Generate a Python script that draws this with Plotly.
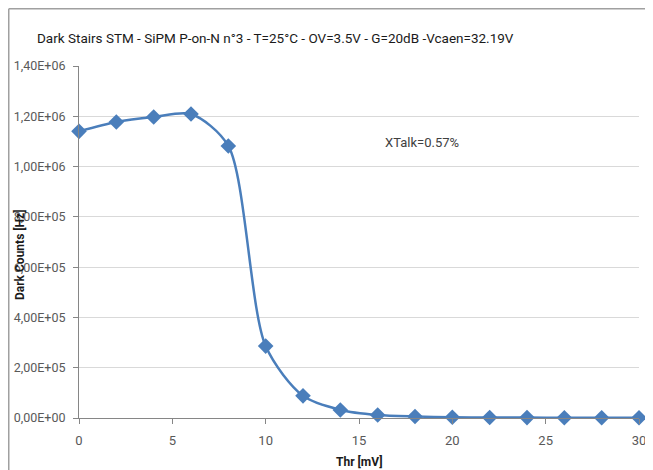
import plotly.graph_objects as go

thr_mv = [0, 2, 4, 6, 8, 10, 12, 14, 16, 18, 20, 22, 24, 26, 28, 30]
dark_counts = [1.14e6, 1.177e6, 1.197e6, 1.209e6, 1.082e6, 2.86e5, 8.8e4, 3.2e4,
               1.2e4, 6e3, 3e3, 2e3, 1.5e3, 1e3, 1e3, 1e3]

y_tickvals = [0, 2e5, 4e5, 6e5, 8e5, 1e6, 1.2e6, 1.4e6]
y_ticktext = ["0,00E+00", "2,00E+05", "4,00E+05", "6,00E+05", "8,00E+05",
              "1,00E+06", "1,20E+06", "1,40E+06"]
x_tickvals = [0, 5, 10, 15, 20, 25, 30]

title_text = "Dark Stairs STM - SiPM P-on-N n°3 - T=25°C - OV=3.5V - G=20dB -Vcaen=32.19V"
FONT = "Roboto, Liberation Sans, sans-serif"
BLUE = "#4a7ebb"

# page is offset by the 8px body margin, so the figure is 645x462
W, H = 645, 462
L, R, T, B = 71, 14, 58, 52
PW, PH = W - L - R, H - T - B

fig = go.Figure()
fig.add_trace(go.Scatter(
    x=thr_mv, y=dark_counts, mode="lines+markers",
    line=dict(color=BLUE, width=2.5, shape="spline", smoothing=0.8),
    marker=dict(symbol="diamond", size=12, color=BLUE),
    cliponaxis=False, showlegend=False,
))

fig.update_layout(
    width=W, height=H,
    margin=dict(l=L, r=R, t=T, b=B, autoexpand=False),
    paper_bgcolor="white", plot_bgcolor="white",
    font=dict(family=FONT, size=13, color="#595959"),
    title=dict(text=title_text, x=29 / W, xanchor="left", xref="container",
               y=1 - 30 / H, yanchor="middle", yref="container",
               font=dict(family=FONT, size=13.5, color="#1a1a1a")),
    xaxis=dict(range=[0, 30], tickvals=x_tickvals, showgrid=False,
               showline=True, linecolor="#868686", linewidth=1,
               ticks="outside", ticklen=5, tickcolor="#868686",
               ticklabelstandoff=5, ticklabeloverflow="allow", automargin=False,
               zeroline=False, tickfont=dict(size=13, color="#595959")),
    yaxis=dict(range=[0, 1.4e6], tickvals=y_tickvals, ticktext=y_ticktext,
               showgrid=True, gridcolor="#d9d9d9", gridwidth=1,
               showline=True, linecolor="#868686", linewidth=1,
               ticks="outside", ticklen=5, tickcolor="#868686",
               ticklabelstandoff=5, automargin=False,
               zeroline=False, tickfont=dict(size=12.5, color="#595959")),
    annotations=[
        dict(text="XTalk=0.57%", x=18.36, y=1.094e6, xref="x", yref="y",
             showarrow=False, font=dict(family=FONT, size=13, color="#404040")),
        dict(text="<b>Dark Counts [Hz]</b>", x=(12 - L) / PW, y=(410 - 247) / PH,
             xref="paper", yref="paper", textangle=-90, showarrow=False,
             xanchor="center", yanchor="middle",
             font=dict(family=FONT, size=12, color="#1a1a1a")),
        dict(text="<b>Thr [mV]</b>", x=0.5, y=-(453 - 410) / PH,
             xref="paper", yref="paper", showarrow=False,
             xanchor="center", yanchor="middle",
             font=dict(family=FONT, size=12, color="#1a1a1a")),
    ],
    shapes=[
        dict(type="line", xref="paper", yref="paper",
             x0=(0.75 - L) / PW, x1=(0.75 - L) / PW, y0=-0.3, y1=1 + (T - 0.75) / PH,
             line=dict(color="#a0a0a0", width=1.5)),
        dict(type="line", xref="paper", yref="paper",
             x0=(0.75 - L) / PW, x1=1.1, y0=1 + (T - 0.75) / PH, y1=1 + (T - 0.75) / PH,
             line=dict(color="#a0a0a0", width=1.5)),
    ],
)

fig.write_html("out.html")
